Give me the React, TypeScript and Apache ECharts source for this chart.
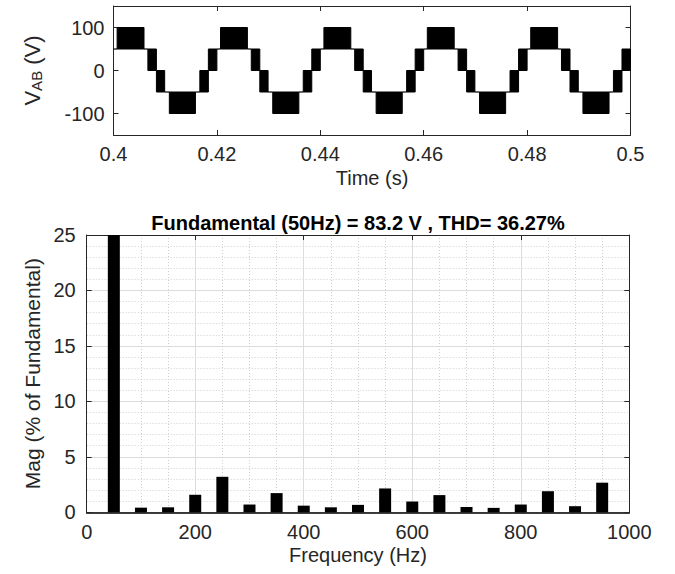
import React, { useEffect, useRef } from "react";
import * as echarts from "echarts";

const FONT = "'Liberation Sans', Arial, Helvetica, sans-serif";

// Top plot: multilevel inverter line voltage, one period pattern (ms offsets from period start)
const PERIOD_STARTS = [0.4, 0.42, 0.44, 0.46, 0.48];
// [startMs, endMs, lowV, highV] ; low == high => flat line, otherwise a dense PWM band
const PATTERN_MS = [
  [0, 0.7, 50, 50],
  [0.7, 5.9, 50, 100],
  [5.9, 6.65, 50, 50],
  [6.65, 8.3, 0, 50],
  [8.3, 9.9, -50, 0],
  [9.9, 10.8, -50, -50],
  [10.8, 15.85, -100, -50],
  [15.85, 16.7, -50, -50],
  [16.7, 18.35, -50, 0],
  [18.35, 20, 0, 50],
];
const TIME_TICKS = [0.4, 0.42, 0.44, 0.46, 0.48, 0.5];
const TIME_LABELS = ["0.4", "0.42", "0.44", "0.46", "0.48", "0.5"];
const VOLT_TICKS = [-100, 0, 100];

// Bottom plot: harmonic spectrum (% of fundamental)
const FREQS = [50, 100, 150, 200, 250, 300, 350, 400, 450, 500, 550, 600, 650, 700, 750, 800, 850, 900, 950];
const MAGS = [100, 0.42, 0.45, 1.58, 3.2, 0.7, 1.73, 0.6, 0.45, 0.67, 2.15, 0.97, 1.55, 0.48, 0.4, 0.7, 1.9, 0.55, 2.67];
const TITLE = "Fundamental (50Hz) = 83.2 V , THD= 36.27%";

const AXIS_COLOR = "#262626";
const LABEL_COLOR = "#262626";

export default function App() {
  const ref = useRef<HTMLDivElement>(null);
  useEffect(() => {
    if (!ref.current) return;
    const chart = echarts.init(ref.current, undefined, { renderer: "svg" });

    const waveData: number[][] = [];
    PERIOD_STARTS.forEach((t0) => {
      PATTERN_MS.forEach(([a, b, lo, hi]) => {
        waveData.push([t0 + a / 1000, t0 + b / 1000, lo, hi]);
      });
    });

    const tickIn = { show: true, inside: true, length: 5, lineStyle: { color: AXIS_COLOR } };
    const axisLine = { show: true, onZero: false, lineStyle: { color: AXIS_COLOR, width: 1 } };
    const lbl = { color: LABEL_COLOR, fontSize: 20, fontFamily: FONT };

    const option: any = {
      animation: false,
      textStyle: { fontFamily: FONT },
      grid: [
        { left: 113.5, right: 44.5, top: 6, height: 129, containLabel: false },
        { left: 86.7, right: 45.7, top: 235, height: 277.3, containLabel: false },
      ],
      graphic: [
        {
          type: "text",
          x: 358,
          y: 223,
          style: {
            text: TITLE,
            fill: "#000",
            font: `bold 20px ${FONT}`,
            textAlign: "center",
            textVerticalAlign: "middle",
          },
        },
      ],
      xAxis: [
        {
          gridIndex: 0,
          type: "value",
          min: 0.4,
          max: 0.5,
          position: "bottom",
          axisLine,
          axisTick: { ...tickIn, customValues: TIME_TICKS },
          axisLabel: {
            ...lbl,
            margin: 9,
            customValues: TIME_TICKS,
            formatter: (v: number) => {
              const i = TIME_TICKS.findIndex((t) => Math.abs(t - v) < 1e-9);
              return i >= 0 ? TIME_LABELS[i] : "";
            },
          },
          splitLine: { show: false },
          name: "Time (s)",
          nameLocation: "middle",
          nameGap: 33,
          nameTextStyle: { ...lbl },
        },
        {
          gridIndex: 0,
          type: "value",
          min: 0.4,
          max: 0.5,
          position: "top",
          axisLine,
          axisTick: { ...tickIn, customValues: TIME_TICKS },
          axisLabel: { show: false },
          splitLine: { show: false },
        },
        {
          gridIndex: 1,
          type: "value",
          min: 0,
          max: 1000,
          interval: 200,
          position: "bottom",
          axisLine: { show: true, onZero: false, lineStyle: { color: "#000", width: 1.6 } },
          axisTick: tickIn,
          axisLabel: { ...lbl, margin: 10, formatter: (v: number) => String(v) },
          splitLine: { show: true, lineStyle: { color: "#dcdcdc", width: 1 } },
          minorTick: { show: false, splitNumber: 4 },
          minorSplitLine: { show: true, lineStyle: { color: "#cfcfcf", type: [1, 2], width: 1 } },
          name: "Frequency (Hz)",
          nameLocation: "middle",
          nameGap: 33,
          nameTextStyle: { ...lbl },
        },
        {
          gridIndex: 1,
          type: "value",
          min: 0,
          max: 1000,
          interval: 200,
          position: "top",
          axisLine,
          axisTick: tickIn,
          axisLabel: { show: false },
          splitLine: { show: false },
        },
      ],
      yAxis: [
        {
          gridIndex: 0,
          type: "value",
          min: -150,
          max: 150,
          position: "left",
          axisLine,
          axisTick: { ...tickIn, customValues: VOLT_TICKS },
          axisLabel: { ...lbl, margin: 9, customValues: VOLT_TICKS },
          splitLine: { show: false },
          name: "{v|V}{s|AB}{v| (V)}",
          nameLocation: "middle",
          nameRotate: 90,
          nameGap: 70,
          nameTextStyle: {
            rich: {
              v: { fontSize: 22, fontFamily: FONT, color: LABEL_COLOR, verticalAlign: "bottom", lineHeight: 32 },
              s: { fontSize: 15, fontFamily: FONT, color: LABEL_COLOR, verticalAlign: "bottom", lineHeight: 22 },
            },
          },
        },
        {
          gridIndex: 0,
          type: "value",
          min: -150,
          max: 150,
          position: "right",
          axisLine,
          axisTick: { ...tickIn, customValues: VOLT_TICKS },
          axisLabel: { show: false },
          splitLine: { show: false },
        },
        {
          gridIndex: 1,
          type: "value",
          min: 0,
          max: 25,
          interval: 5,
          position: "left",
          axisLine,
          axisTick: tickIn,
          axisLabel: { ...lbl, margin: 11 },
          splitLine: { show: true, lineStyle: { color: "#dcdcdc", width: 1 } },
          minorTick: { show: false, splitNumber: 5 },
          minorSplitLine: { show: true, lineStyle: { color: "#cfcfcf", type: [1, 2], width: 1 } },
          name: "Mag (% of Fundamental)",
          nameLocation: "middle",
          nameRotate: 90,
          nameGap: 39,
          nameTextStyle: { ...lbl, fontSize: 21 },
        },
        {
          gridIndex: 1,
          type: "value",
          min: 0,
          max: 25,
          interval: 5,
          position: "right",
          axisLine,
          axisTick: tickIn,
          axisLabel: { show: false },
          splitLine: { show: false },
        },
      ],
      series: [
        {
          type: "custom",
          xAxisIndex: 0,
          yAxisIndex: 0,
          clip: true,
          data: waveData,
          renderItem: (params: any, api: any) => {
            const t0 = api.value(0);
            const t1 = api.value(1);
            const lo = api.value(2);
            const hi = api.value(3);
            const p0 = api.coord([t0, hi]);
            const p1 = api.coord([t1, lo]);
            if (lo === hi) {
              return {
                type: "line",
                shape: { x1: p0[0], y1: p0[1], x2: p1[0], y2: p1[1] },
                style: { stroke: "#000", lineWidth: 1.2 },
              };
            }
            return {
              type: "rect",
              shape: { x: p0[0], y: p0[1], width: p1[0] - p0[0], height: p1[1] - p0[1] },
              style: { fill: "#000", stroke: "#000", lineWidth: 1 },
            };
          },
        },
        {
          type: "bar",
          xAxisIndex: 2,
          yAxisIndex: 2,
          barWidth: 12,
          clip: true,
          itemStyle: { color: "#000" },
          data: FREQS.map((f, i) => [f, MAGS[i]]),
        },
      ],
    };
    chart.setOption(option);
    return () => chart.dispose();
  }, []);
  return (
    <div
      ref={ref}
      style={{ position: "fixed", left: 0, top: 0, width: 675, height: 574, background: "#fff" }}
    />
  );
}
